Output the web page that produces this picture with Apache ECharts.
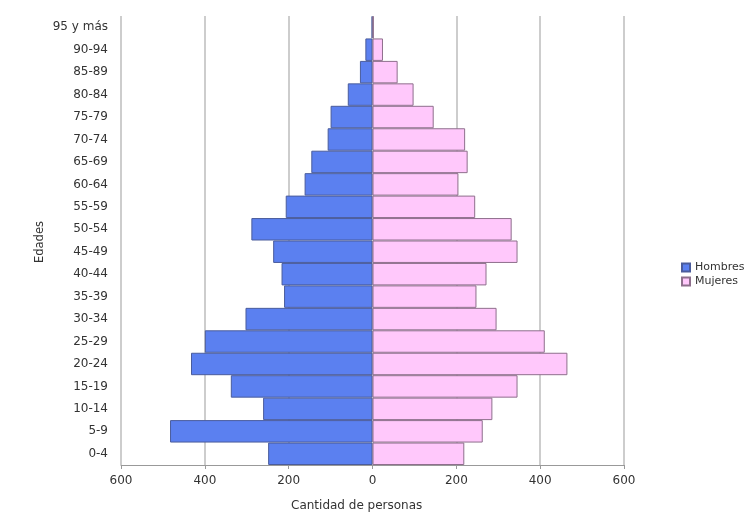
<!DOCTYPE html>
<html>
<head>
<meta charset="utf-8">
<script src="https://cdn.jsdelivr.net/npm/echarts@6/dist/echarts.min.js"></script>
<style>
html,body{margin:0;padding:0;background:#fff;}
#chart{width:753px;height:520px;}
</style>
</head>
<body>
<div id="chart"></div>
<script>
const categories = ['0-4','5-9','10-14','15-19','20-24','25-29','30-34','35-39','40-44','45-49','50-54','55-59','60-64','65-69','70-74','75-79','80-84','85-89','90-94','95 y más'];
const hombres = [249, 483, 261, 338, 433, 400, 303, 211, 217, 237, 289, 207, 162, 146, 107, 100, 59, 30, 17, 2];
const mujeres = [219, 263, 286, 346, 465, 411, 296, 248, 272, 346, 332, 245, 205, 227, 221, 146, 98, 60, 25, 3];
const xTicks = [-600, 600, 200];

const font = 'DejaVu Sans';
const chart = echarts.init(document.getElementById('chart'));
chart.setOption({
  backgroundColor: '#fff',
  animation: false,
  textStyle: { fontFamily: font },
  grid: { left: 121, right: 129, top: 16, bottom: 55, containLabel: false },
  legend: {
    orient: 'vertical',
    left: 676, top: 257,
    itemWidth: 8, itemHeight: 8, itemGap: 3,
    icon: 'rect',
    textStyle: { fontFamily: font, fontSize: 11, color: '#333' },
    data: ['Hombres', 'Mujeres']
  },
  xAxis: {
    type: 'value',
    min: xTicks[0], max: xTicks[1], interval: xTicks[2],
    axisLine: { show: true, onZero: false, lineStyle: { color: '#999', width: 1 } },
    axisTick: { show: true, length: 4, lineStyle: { color: '#999' } },
    axisLabel: { fontFamily: font, fontSize: 12, color: '#333', margin: 10, formatter: v => Math.abs(v) },
    splitLine: { show: true, lineStyle: { color: '#bdbdbd', width: 1.5 } }
  },
  yAxis: {
    type: 'category',
    data: categories,
    axisLine: { show: false },
    axisTick: { show: false },
    axisLabel: { fontFamily: font, fontSize: 12, color: '#333', margin: 13 },
    splitLine: { show: false }
  },
  graphic: [
    { type: 'text', left: 291, top: 500, style: { text: 'Cantidad de personas', fontFamily: font, fontSize: 12, fill: '#333' } },
    { type: 'text', x: 40, y: 242, rotation: Math.PI / 2, style: { text: 'Edades', fontFamily: font, fontSize: 11.5, fill: '#333', align: 'center', verticalAlign: 'middle' } }
  ],
  series: [
    {
      name: 'Hombres', type: 'bar', stack: 'p',
      data: hombres.map(v => -v),
      barCategoryGap: '0%',
      itemStyle: { color: '#5b80f0', borderColor: '#4a5c9c', borderWidth: 1 }
    },
    {
      name: 'Mujeres', type: 'bar', stack: 'p',
      data: mujeres,
      barCategoryGap: '0%',
      itemStyle: { color: '#ffc8fb', borderColor: '#8e6f8c', borderWidth: 1 }
    }
  ]
});
</script>
</body>
</html>
